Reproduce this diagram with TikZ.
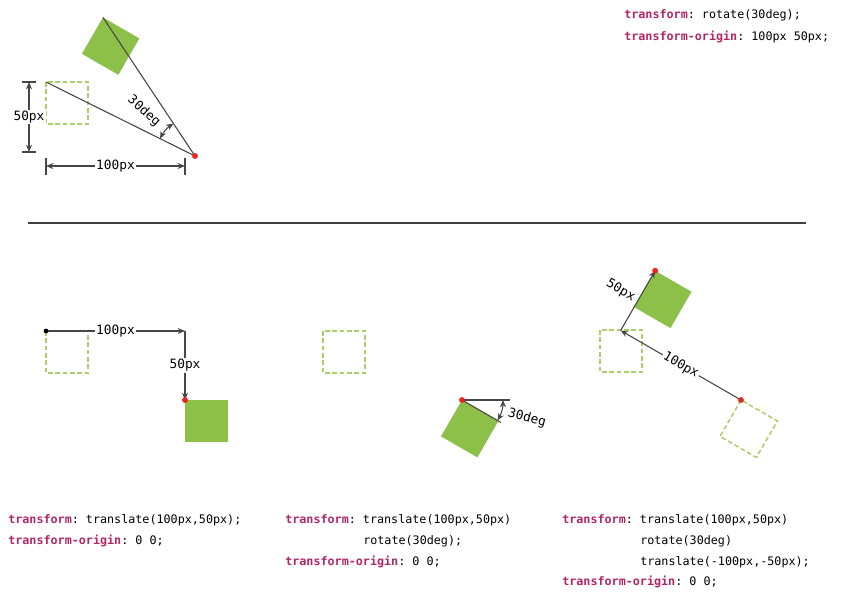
\documentclass[tikz,border=0pt]{standalone}
\usepackage{fontspec}
\setmonofont{DejaVu Sans Mono}
\usetikzlibrary{calc,arrows.meta}

\definecolor{boxgreen}{RGB}{140,192,72}
\definecolor{ghostgreen}{RGB}{172,206,104}
\definecolor{keyword}{RGB}{178,38,102}
\definecolor{origin}{RGB}{234,36,28}
\definecolor{guidegray}{RGB}{70,70,70}
\newcommand{\kw}[1]{\textcolor{keyword}{\textbf{#1}}}

\begin{document}
\begin{tikzpicture}[x=0.75pt, y=-0.75pt, >={Stealth[length=5.5pt,width=4.5pt]},
    code/.style={anchor=base west, inner sep=0pt, font=\ttfamily\fontsize{8.8}{10}\selectfont},
    dim/.style={font=\ttfamily\fontsize{9.6}{10}\selectfont, text=black, fill=white, inner sep=1pt},
    ghost/.style={draw=ghostgreen, line width=1.1pt, dash pattern=on 3.5pt off 2pt},
    guide/.style={draw=guidegray, line width=0.8pt},
    reddot/.style={fill=origin}]
    \fill[white] (0,0) rectangle (843,594);

    % rotate about 100px 50px
    \coordinate (A) at (46,82);
    \coordinate (O1) at (195,156);
    \draw[ghost] (A) rectangle (88,124);
    \begin{scope}[shift={(O1)}, rotate=-30]
        \fill[boxgreen] (-149,-74) rectangle (-107,-32);
        \coordinate (A2) at (-149,-74);
    \end{scope}
    \draw[guide] (A) -- (O1);
    \draw[guide] (A2) -- (O1);
    \draw[guide,<->] ($(O1)+(206.4:39)$) arc (206.4:236.4:39);
    \node[dim, fill=none, rotate=-41.4] (deg1) at ($(O1)+(221.4:68)$) {30deg};
    \coordinate (V1) at (29,82);
    \coordinate (V2) at (29,152);
    \draw[guide] ($(V1)+(-7,0)$) -- ($(V1)+(7,0)$);
    \draw[guide] ($(V2)+(-7,0)$) -- ($(V2)+(7,0)$);
    \draw[guide,<->] (V1) -- node[dim] (h50) {50px} (V2);
    \coordinate (H1) at (46,166);
    \coordinate (H2) at (185,166);
    \draw[guide] ($(H1)+(0,-8)$) -- ($(H1)+(0,9)$);
    \draw[guide] ($(H2)+(0,-8)$) -- ($(H2)+(0,9)$);
    \draw[guide,<->] (H1) -- node[dim] (w100) {100px} (H2);
    \fill[reddot] (O1) circle (2.2pt);

    \node[code] (topa) at (624,18) {\kw{transform}: rotate(30deg);};
    \node[code] (topb) at (624,40) {\kw{transform-origin}: 100px 50px;};

    \coordinate (R1) at (28,223);
    \coordinate (R2) at (806,223);
    \draw[line width=1.5pt, draw=black!75] (R1) -- (R2);

    % translate only
    \coordinate (B0) at (46,331);
    \coordinate (B1) at (185,331);
    \coordinate (B2) at (185,400);
    \draw[ghost] (B0) rectangle (88,373);
    \fill[boxgreen] (B2) rectangle (228,442);
    \draw[guide,->] (B0) -- node[dim] (b100) {100px} (B1);
    \draw[guide,->] (B1) -- node[dim] (b50) {50px} (B2);
    \fill (B0) circle (1.8pt);
    \fill[reddot] (B2) circle (2.2pt);

    % translate, then rotate
    \coordinate (C0) at (323,331);
    \coordinate (C1) at (462,400);
    \draw[ghost] (C0) rectangle (365,373);
    \begin{scope}[shift={(C1)}, rotate=-30]
        \fill[boxgreen] (0,0) rectangle (42,42);
    \end{scope}
    \draw[guide] (C1) -- ($(C1)+(0:48)$);
    \draw[guide] (C1) -- ($(C1)+(30:45)$);
    \draw[guide,<->] ($(C1)+(0:41)$) arc (0:30:41);
    \node[dim, fill=none, rotate=-15] (deg2) at (527,418) {30deg};
    \fill[reddot] (C1) circle (2.2pt);

    % translate, rotate, translate back
    \coordinate (D0) at (600,330);
    \coordinate (D1) at (741,400);
    \draw[ghost] (D0) rectangle (642,372);
    \begin{scope}[shift={(D1)}, rotate=-30]
        \draw[ghost] (0,0) rectangle (42,42);
    \end{scope}
    \coordinate (D2) at ($(D1)+(210:139)$);
    \coordinate (D3) at ($(D2)+(300:69)$);
    \begin{scope}[shift={(D3)}, rotate=-30]
        \fill[boxgreen] (0,0) rectangle (42,42);
    \end{scope}
    \draw[guide,->] (D1) -- node[dim, sloped] (d100) {100px} (D2);
    \draw[guide,->] (D2) -- node[dim, fill=none, rotate=-30, anchor=east, inner sep=3pt] (d50) {50px} (D3);
    \fill[reddot] (D1) circle (2.2pt);
    \fill[reddot] (D3) circle (2.2pt);

    \node[code] (ca) at (8,523) {\kw{transform}: translate(100px,50px);};
    \node[code] (cb) at (8,544) {\kw{transform-origin}: 0 0;};
    \node[code] (ma) at (285,523) {\kw{transform}: translate(100px,50px)};
    \node[code] (mb) at (363,544) {rotate(30deg);};
    \node[code] (mc) at (285,565) {\kw{transform-origin}: 0 0;};
    \node[code] (ra) at (562,523) {\kw{transform}: translate(100px,50px)};
    \node[code] (rb) at (640,544) {rotate(30deg)};
    \node[code] (rc) at (640,565) {translate(-100px,-50px);};
    \node[code] (rd) at (562,585) {\kw{transform-origin}: 0 0;};
\end{tikzpicture}
\end{document}
